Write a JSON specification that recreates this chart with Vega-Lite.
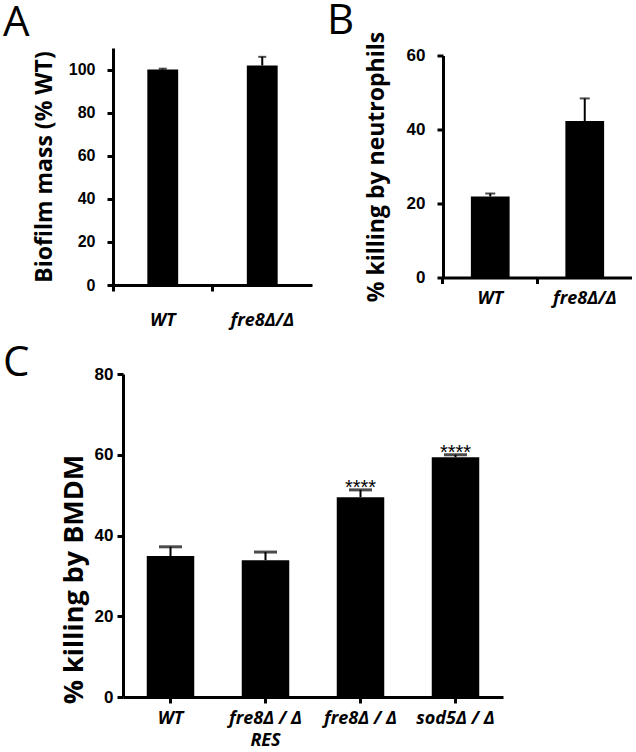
{
  "$schema": "https://vega.github.io/schema/vega-lite/v6.json",
  "background": "white",
  "padding": {"left": 3, "top": 0, "right": 0, "bottom": 0},
  "spacing": 13,
  "datasets": {
    "A": [
      {"strain": "WT", "mean": 100, "hi": 100.4},
      {"strain": "fre8Δ/Δ", "mean": 101.9, "hi": 105.9}
    ],
    "B": [
      {"strain": "WT", "mean": 21.9, "hi": 22.7},
      {"strain": "fre8Δ/Δ", "mean": 42.3, "hi": 48.4}
    ],
    "C": [
      {"strain": "WT", "mean": 34.9, "hi": 37.2, "sig": ""},
      {"strain": "fre8Δ / Δ\nRES", "mean": 33.9, "hi": 35.9, "sig": ""},
      {"strain": "fre8Δ / Δ", "mean": 49.5, "hi": 51.3, "sig": "****"},
      {"strain": "sod5Δ / Δ", "mean": 59.4, "hi": 60.0, "sig": "****"}
    ]
  },
  "config": {
    "view": {"stroke": null},
    "axis": {
      "grid": false,
      "domainColor": "black",
      "domainWidth": 3,
      "tickColor": "black",
      "tickWidth": 3,
      "tickSize": 6,
      "labelColor": "black",
      "titleColor": "black",
      "labelFont": "Liberation Sans",
      "labelFontWeight": "bold",
      "titleFont": "Open Sans",
      "titleFontWeight": "bold"
    },
    "axisX": {
      "labelFont": "Open Sans",
      "labelFontStyle": "italic",
      "labelFontWeight": "bold",
      "labelFontSize": 18,
      "labelAngle": 0
    },
    "title": {
      "font": "Open Sans",
      "fontSize": 42,
      "fontWeight": "normal",
      "anchor": "start",
      "frame": "group",
      "baseline": "alphabetic",
      "color": "black"
    }
  },
  "vconcat": [
    {
      "hconcat": [
        {
          "width": 199,
          "height": 237,
          "title": {"text": "A", "dx": -110, "offset": 3},
          "data": {"name": "A"},
          "encoding": {
            "x": {
              "field": "strain",
              "type": "nominal",
              "sort": null,
              "scale": {"paddingInner": 0.69, "paddingOuter": 0.345},
              "axis": {"title": null, "bandPosition": -1.11, "labelPadding": 20}
            }
          },
          "layer": [
            {
              "mark": {"type": "bar", "color": "black"},
              "encoding": {
                "y": {
                  "field": "mean",
                  "type": "quantitative",
                  "scale": {"domain": [0, 110], "nice": false},
                  "axis": {
                    "title": "Biofilm mass (% WT)",
                    "titleFontSize": 23,
                    "titlePadding": 12,
                    "values": [0, 20, 40, 60, 80, 100],
                    "labelFontSize": 16,
                    "labelPadding": 12
                  }
                }
              }
            },
            {
              "mark": {"type": "rule", "color": "black", "strokeWidth": 2},
              "encoding": {"y": {"field": "mean", "type": "quantitative"}, "y2": {"field": "hi"}}
            },
            {
              "mark": {"type": "tick", "color": "black", "thickness": 2, "size": 8},
              "encoding": {"y": {"field": "hi", "type": "quantitative"}}
            }
          ]
        },
        {
          "width": 189,
          "height": 222,
          "title": {"text": "B", "dx": -116, "offset": -12},
          "data": {"name": "B"},
          "encoding": {
            "x": {
              "field": "strain",
              "type": "nominal",
              "sort": null,
              "scale": {"paddingInner": 0.59, "paddingOuter": 0.295},
              "axis": {"title": null, "bandPosition": -0.72, "labelPadding": 6}
            }
          },
          "layer": [
            {
              "mark": {"type": "bar", "color": "black"},
              "encoding": {
                "y": {
                  "field": "mean",
                  "type": "quantitative",
                  "scale": {"domain": [0, 60], "nice": false},
                  "axis": {
                    "title": "% killing by neutrophils",
                    "titleFontSize": 23,
                    "titlePadding": 18,
                    "values": [0, 10, 20, 30, 40, 50, 60],
                    "labelFontSize": 17,
                    "labelPadding": 12
                  }
                }
              }
            },
            {
              "mark": {"type": "rule", "color": "black", "strokeWidth": 2},
              "encoding": {"y": {"field": "mean", "type": "quantitative"}, "y2": {"field": "hi"}}
            },
            {
              "mark": {"type": "tick", "color": "black", "thickness": 2, "size": 10},
              "encoding": {"y": {"field": "hi", "type": "quantitative"}}
            }
          ]
        }
      ],
      "spacing": 131,
      "center": true,
      "bounds": "flush"
    },
    {
      "hconcat": [
        {
          "width": 1,
          "height": 1,
          "data": {"values": [{}]},
          "mark": {"type": "text", "text": ""}
        },
        {
          "width": 380,
          "height": 323,
          "title": {"text": "C", "dx": -120, "offset": -20},
          "data": {"name": "C"},
          "encoding": {
            "x": {
              "field": "strain",
              "type": "nominal",
              "sort": null,
              "scale": {"paddingInner": 0.5, "paddingOuter": 0.25},
              "axis": {
                "title": null,
                "labelPadding": 6,
                "labelExpr": "split(datum.label, '\\n')",
                "labelLineHeight": 22
              }
            }
          },
          "layer": [
            {
              "mark": {"type": "bar", "color": "black"},
              "encoding": {
                "y": {
                  "field": "mean",
                  "type": "quantitative",
                  "scale": {"domain": [0, 80], "nice": false},
                  "axis": {
                    "title": "% killing by BMDM",
                    "titleFontSize": 27,
                    "titlePadding": 6,
                    "titleY": 205,
                    "values": [0, 20, 40, 60, 80],
                    "labelFontSize": 17,
                    "labelPadding": 4
                  }
                }
              }
            },
            {
              "mark": {"type": "rule", "color": "black", "strokeWidth": 2},
              "encoding": {"y": {"field": "mean", "type": "quantitative"}, "y2": {"field": "hi"}}
            },
            {
              "mark": {"type": "tick", "color": "black", "thickness": 3, "size": 23},
              "encoding": {"y": {"field": "hi", "type": "quantitative"}}
            },
            {
              "mark": {"type": "text", "font": "Liberation Sans", "fontSize": 20, "baseline": "alphabetic", "dy": 4, "color": "black"},
              "encoding": {"y": {"field": "hi", "type": "quantitative"}, "text": {"field": "sig"}}
            }
          ]
        }
      ],
      "spacing": 9,
      "bounds": "flush"
    }
  ]
}
